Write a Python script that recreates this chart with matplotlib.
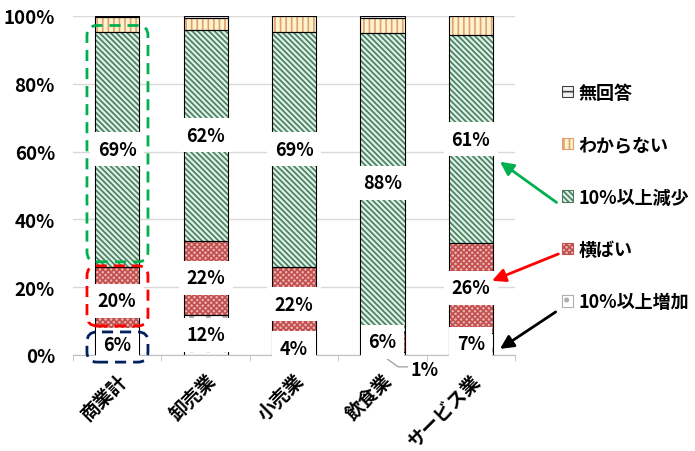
import matplotlib
matplotlib.use('Agg')
import matplotlib.pyplot as plt
from matplotlib.patches import FancyBboxPatch, Patch
import numpy as np

plt.rcParams['font.family'] = ['Noto Sans CJK JP', 'DejaVu Sans']
plt.rcParams['font.weight'] = 'bold'
plt.rcParams['hatch.linewidth'] = 1.2

categories = ['商業計', '卸売業', '小売業', '飲食業', 'サービス業']
series_names = ['10%以上増加', '横ばい', '10%以上減少', 'わからない', '無回答']
increase = [5.9, 11.8, 3.9, 0.9, 6.6]
flat = [20.1, 21.9, 22.1, 5.9, 26.4]
decrease = [69.4, 62.2, 69.4, 88.1, 61.3]
dont_know = [4.2, 3.5, 4.6, 4.5, 5.7]
no_answer = [0.4, 0.6, 0.0, 0.6, 0.0]
yticks = [0, 20, 40, 60, 80, 100]

series = [increase, flat, decrease, dont_know, no_answer]
styles = [
    dict(fc='#ffffff', hc='#b0b0b0', hatch='.'),
    dict(fc='#f0b4b4', hc='#c0504d', hatch='xxxxxx'),
    dict(fc='#d8f3e3', hc='#4f7a60', hatch='\\\\\\\\\\\\'),
    dict(fc='#fff2cc', hc='#e0a070', hatch='|||'),
    dict(fc='#f2f2f2', hc='#404040', hatch='-'),
]

W, H = 695, 452
fig = plt.figure(figsize=(W / 100, H / 100), dpi=100)
ax = fig.add_axes([73 / W, 96 / H, 442 / W, 339 / H])

x = np.arange(len(categories))
bottom = np.zeros(len(categories))
barw = 0.5
for k, (vals, st) in enumerate(zip(series, styles)):
    vals = np.array(vals)
    ax.bar(x, vals, barw, bottom=bottom, color=st['fc'], edgecolor=st['hc'],
           hatch=st['hatch'], linewidth=0, zorder=2)
    ax.bar(x, vals, barw, bottom=bottom, facecolor='none', edgecolor='black',
           linewidth=0.8, zorder=3)
    if k < 3:
        for i in range(len(x)):
            v = vals[i]
            txt = f"{round(v)}%"
            if v < 2:
                ax.plot([x[i] + 0.04, x[i] + 0.18, x[i] + 0.28],
                        [-0.9, -3.5, -3.5], color='#a6a6a6', lw=1,
                        clip_on=False, zorder=4)
                ax.text(x[i] + 0.48, -4.4, txt, ha='center', va='center',
                        fontsize=13, fontweight='bold', zorder=6)
            else:
                ax.text(x[i], bottom[i] + v / 2, txt, ha='center', va='center',
                        fontsize=13, fontweight='bold', zorder=6,
                        bbox=dict(boxstyle='square,pad=0.42', fc='white', ec='none'))
    bottom = bottom + vals

ax.set_xlim(-0.5, len(categories) - 0.5)
ax.set_ylim(0, 100)
ax.set_yticks(yticks, [f"{t}%" for t in yticks], fontsize=13.5)
ax.yaxis.grid(True, color='#d9d9d9', lw=1)
ax.set_axisbelow(True)
ax.tick_params(axis='y', length=0, pad=13)
ax.set_xticks(x, categories, rotation=45, ha='right', rotation_mode='anchor', fontsize=13.5)
ax.set_xticks(np.arange(-0.5, len(categories), 1), minor=True)
ax.tick_params(axis='x', which='major', length=0, pad=11)
ax.tick_params(axis='x', which='minor', length=4.5, color='#bfbfbf', direction='out')
for s in ['top', 'right', 'left']:
    ax.spines[s].set_visible(False)
ax.spines['bottom'].set_color('#bfbfbf')

# rounded dashed highlight boxes
px_x = 442 / 5
px_y = 339 / 100
asp = px_x / px_y
r = 10 / px_x

def rbox(x0, x1, y0, y1, color):
    p = FancyBboxPatch((x0, y0), x1 - x0, y1 - y0,
                       boxstyle=f"round,pad=0,rounding_size={r}",
                       mutation_aspect=asp, fill=False, ec=color, lw=2,
                       ls=(0, (4, 2.5)), clip_on=False, zorder=7)
    ax.add_patch(p)

rbox(-0.342, 0.348, 27.5, 97.2, '#00b050')
rbox(-0.342, 0.348, 8.6, 26.3, '#ff0000')
rbox(-0.342, 0.348, -2.1, 6.8, '#002060')

# arrows
for head, tail, c in [((4.33, 57), (4.97, 45), '#00b050'),
                      ((4.24, 21.9), (4.99, 29.8), '#ff0000'),
                      ((4.33, 1.8), (4.96, 12.7), 'black')]:
    ax.annotate('', xy=head, xytext=tail, annotation_clip=False,
                arrowprops=dict(arrowstyle='-|>', color=c, lw=2,
                                mutation_scale=20, shrinkA=0, shrinkB=0), zorder=8)

handles = [Patch(facecolor=st['fc'], edgecolor=st['hc'], hatch=st['hatch'], lw=0.8)
           for st in styles]
leg = fig.legend(handles[::-1], series_names[::-1], loc='center left',
                 bbox_to_anchor=(562 / W, 1 - 198 / H), frameon=False,
                 fontsize=13, labelspacing=1.85, handlelength=0.6,
                 handleheight=0.6, handletextpad=0.3, borderpad=0,
                 borderaxespad=0)

fig.savefig('out.png', dpi=100)
